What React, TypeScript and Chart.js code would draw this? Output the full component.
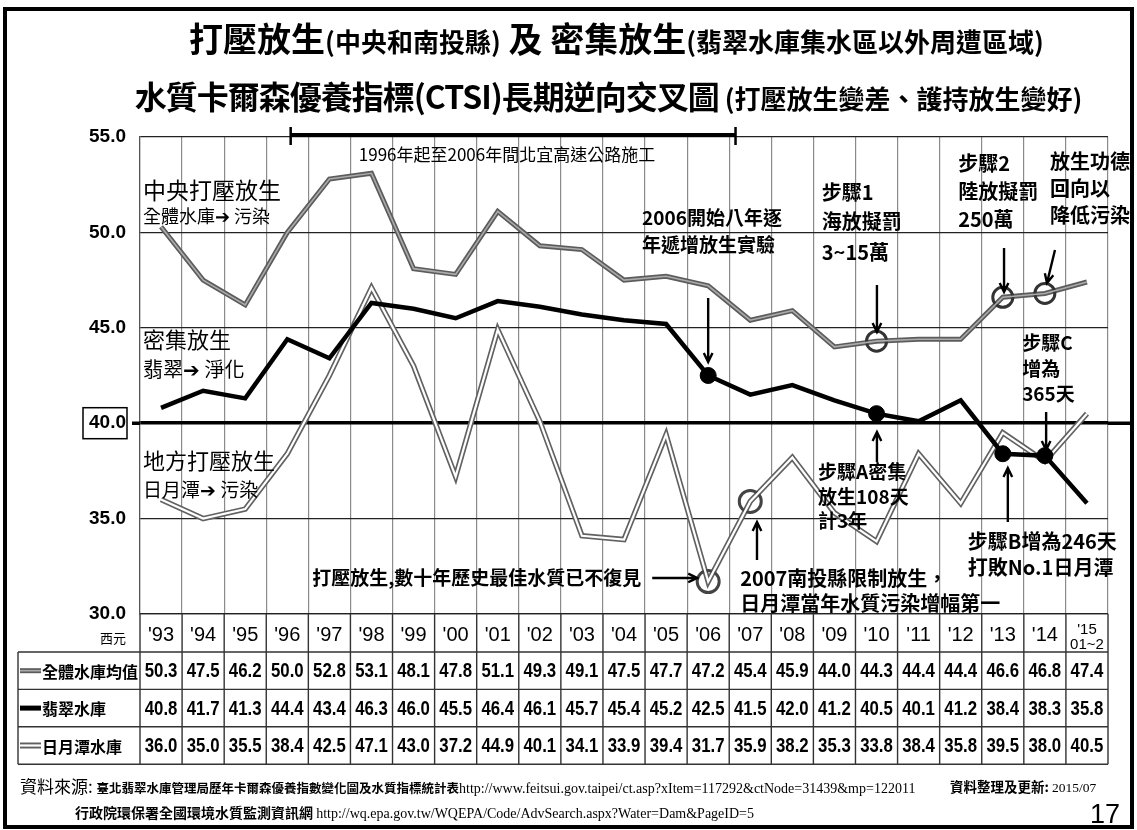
import React, { useEffect, useRef } from 'react';
import { Chart, registerables } from 'chart.js';

Chart.register(...registerables);

// ---------- data ----------
const categories = ["'93", "'94", "'95", "'96", "'97", "'98", "'99", "'00", "'01", "'02", "'03", "'04", "'05", "'06", "'07", "'08", "'09", "'10", "'11", "'12", "'13", "'14", "'15 01~2"];
const allReservoirMean = [50.3, 47.5, 46.2, 50.0, 52.8, 53.1, 48.1, 47.8, 51.1, 49.3, 49.1, 47.5, 47.7, 47.2, 45.4, 45.9, 44.0, 44.3, 44.4, 44.4, 46.6, 46.8, 47.4];
const feitsui = [40.8, 41.7, 41.3, 44.4, 43.4, 46.3, 46.0, 45.5, 46.4, 46.1, 45.7, 45.4, 45.2, 42.5, 41.5, 42.0, 41.2, 40.5, 40.1, 41.2, 38.4, 38.3, 35.8];
const sunMoonLake = [36.0, 35.0, 35.5, 38.4, 42.5, 47.1, 43.0, 37.2, 44.9, 40.1, 34.1, 33.9, 39.4, 31.7, 35.9, 38.2, 35.3, 33.8, 38.4, 35.8, 39.5, 38.0, 40.5];
const seriesNames = ['全體水庫均值', '翡翠水庫', '日月潭水庫'];
const yMin = 30;
const yMax = 55;
const yStep = 5;
const meanMarked = [17, 20, 21];
const feitsuiMarked = [13, 17, 20, 21];
const sunMoonMarked = [13, 14];

const NARROW = "'Liberation Sans Narrow', 'Liberation Sans', sans-serif";
const CJK = "'Noto Sans CJK TC', 'Noto Sans CJK SC', sans-serif";

type Note = { text: string; i: number; v: number; size: number; bold?: boolean; center?: boolean };
const notes: Note[] = [
  { text: '中央打壓放生', i: -0.43, v: 52.22, size: 23 },
  { text: '全體水庫➔ 污染', i: -0.43, v: 50.86, size: 18 },
  { text: '密集放生', i: -0.43, v: 44.36, size: 22 },
  { text: '翡翠➔ 淨化', i: -0.43, v: 42.84, size: 20 },
  { text: '地方打壓放生', i: -0.43, v: 38.02, size: 22 },
  { text: '日月潭➔ 污染', i: -0.43, v: 36.5, size: 19 },
  { text: '2006開始八年逐', i: 11.43, v: 50.75, size: 19, bold: true },
  { text: '年遞增放生實驗', i: 11.43, v: 49.34, size: 19, bold: true },
  { text: '步驟1', i: 15.7, v: 52.07, size: 20, bold: true },
  { text: '海放擬罰', i: 15.7, v: 50.55, size: 20, bold: true },
  { text: '3~15萬', i: 15.7, v: 48.97, size: 20, bold: true },
  { text: '步驟2', i: 18.94, v: 53.64, size: 20, bold: true },
  { text: '陸放擬罰', i: 18.94, v: 52.17, size: 20, bold: true },
  { text: '250萬', i: 18.94, v: 50.7, size: 20, bold: true },
  { text: '放生功德', i: 21.12, v: 53.74, size: 20, bold: true },
  { text: '回向以', i: 21.12, v: 52.33, size: 20, bold: true },
  { text: '降低污染', i: 21.12, v: 50.91, size: 20, bold: true },
  { text: '步驟C', i: 20.46, v: 44.2, size: 19, bold: true },
  { text: '增為', i: 20.46, v: 42.84, size: 19, bold: true },
  { text: '365天', i: 20.46, v: 41.53, size: 19, bold: true },
  { text: '步驟A密集', i: 15.61, v: 37.44, size: 19, bold: true },
  { text: '放生108天', i: 15.61, v: 36.13, size: 19, bold: true },
  { text: '計3年', i: 15.61, v: 34.87, size: 19, bold: true },
  { text: '步驟B增為246天', i: 19.17, v: 33.83, size: 20, bold: true },
  { text: '打敗No.1日月潭', i: 19.17, v: 32.46, size: 20, bold: true },
  { text: '打壓放生,數十年歷史最佳水質已不復見', i: 3.59, v: 31.89, size: 19, bold: true },
  { text: '2007南投縣限制放生，', i: 13.76, v: 31.89, size: 20, bold: true },
  { text: '日月潭當年水質污染增幅第一', i: 13.76, v: 30.58, size: 20, bold: true },
  { text: '1996年起至2006年間北宜高速公路施工', i: 8.22, v: 54.06, size: 17, center: true },
];

// arrows: [i1, v1, i2, v2] with the head at the second end
const arrows: number[][] = [
  [13.0, 46.56, 13.0, 43.21],
  [17.01, 47.24, 17.01, 44.78],
  [20.03, 49.18, 20.03, 46.88],
  [21.24, 49.08, 21.05, 47.35],
  [21.03, 40.59, 21.03, 38.6],
  [17.01, 37.97, 17.01, 39.54],
  [20.12, 34.82, 20.12, 37.65],
  [14.16, 32.83, 14.16, 34.82],
  [11.67, 31.89, 12.74, 31.89],
];

const bracketFrom = 3.08;
const bracketTo = 13.65;

const decorPlugin = {
  id: 'decor',
  afterDatasetDraw(chart: any, args: any) {
    const ds: any = chart.data.datasets[args.index];
    if (!ds.innerColor) return;
    const pts = args.meta.data;
    const ctx = chart.ctx;
    ctx.save();
    ctx.beginPath();
    pts.forEach((p: any, k: number) => (k ? ctx.lineTo(p.x, p.y) : ctx.moveTo(p.x, p.y)));
    ctx.strokeStyle = ds.innerColor;
    ctx.lineWidth = ds.innerWidth;
    ctx.lineJoin = 'miter';
    ctx.stroke();
    ctx.restore();
  },
  afterDraw(chart: any) {
    const { ctx, chartArea: ca, scales } = chart;
    const xs = scales.x;
    const ys = scales.y;
    const step = xs.getPixelForValue(1) - xs.getPixelForValue(0);
    const X = (f: number) => xs.getPixelForValue(0) + f * step;
    const Y = (v: number) => ys.getPixelForValue(v);
    ctx.save();

    // 40 line extension and box
    const y40 = Y(40);
    ctx.strokeStyle = '#000';
    ctx.lineWidth = 3.5;
    ctx.beginPath();
    ctx.moveTo(132, y40);
    ctx.lineTo(ca.left, y40);
    ctx.moveTo(ca.right, y40);
    ctx.lineTo(1131, y40);
    ctx.stroke();
    ctx.lineWidth = 1.5;
    ctx.strokeRect(83, y40 - 15.5, 44, 31);

    // bracket
    const by = ca.top - 2;
    ctx.lineWidth = 4;
    ctx.beginPath();
    ctx.moveTo(X(bracketFrom), by);
    ctx.lineTo(X(bracketTo), by);
    ctx.stroke();
    ctx.lineWidth = 2.5;
    ctx.beginPath();
    ctx.moveTo(X(bracketFrom), by - 8);
    ctx.lineTo(X(bracketFrom), by + 10);
    ctx.moveTo(X(bracketTo), by - 8);
    ctx.lineTo(X(bracketTo), by + 10);
    ctx.stroke();

    // notes
    ctx.fillStyle = '#000';
    ctx.textBaseline = 'middle';
    notes.forEach((n) => {
      ctx.font = `${n.bold ? 'bold ' : ''}${n.size}px ${CJK}`;
      ctx.textAlign = n.center ? 'center' : 'left';
      ctx.fillText(n.text, X(n.i), Y(n.v));
    });

    // arrows
    ctx.strokeStyle = '#000';
    ctx.lineWidth = 2.4;
    arrows.forEach(([i1, v1, i2, v2]) => {
      const x1 = X(i1), y1 = Y(v1), x2 = X(i2), y2 = Y(v2);
      const ang = Math.atan2(y2 - y1, x2 - x1);
      const hl = 10, ha = 0.45;
      ctx.beginPath();
      ctx.moveTo(x1, y1);
      ctx.lineTo(x2, y2);
      ctx.moveTo(x2 - hl * Math.cos(ang - ha), y2 - hl * Math.sin(ang - ha));
      ctx.lineTo(x2, y2);
      ctx.lineTo(x2 - hl * Math.cos(ang + ha), y2 - hl * Math.sin(ang + ha));
      ctx.stroke();
    });

    // 西元
    ctx.font = `13px ${CJK}`;
    ctx.textAlign = 'right';
    ctx.fillText('西元', ca.left - 14, ca.bottom + 24);

    // table
    const headerBottom = ca.bottom + 38;
    const rowH = 37.4;
    const tableBottom = headerBottom + rowH * 3;
    const tableLeft = 18;
    ctx.strokeStyle = '#333';
    ctx.lineWidth = 1.4;
    ctx.beginPath();
    for (let k = 0; k <= categories.length; k++) {
      const xx = X(k - 0.5);
      ctx.moveTo(xx, ca.bottom);
      ctx.lineTo(xx, tableBottom);
    }
    ctx.moveTo(tableLeft, headerBottom);
    ctx.lineTo(tableLeft, tableBottom);
    for (let r = 0; r <= 3; r++) {
      const yy = headerBottom + r * rowH;
      ctx.moveTo(tableLeft, yy);
      ctx.lineTo(ca.right, yy);
    }
    ctx.stroke();

    const rows = [allReservoirMean, feitsui, sunMoonLake];
    rows.forEach((vals, r) => {
      const cy = headerBottom + (r + 0.5) * rowH;
      ctx.font = `bold 21px ${NARROW}`;
      ctx.textAlign = 'center';
      ctx.fillStyle = '#000';
      vals.forEach((v, k) => {
        ctx.save();
        ctx.translate(X(k), cy + 1);
        ctx.scale(0.8, 1);
        ctx.fillText(v.toFixed(1), 0, 0);
        ctx.restore();
      });
      // legend sample
      ctx.lineCap = 'butt';
      if (r === 0) {
        ctx.strokeStyle = '#5a5a5a'; ctx.lineWidth = 5;
        ctx.beginPath(); ctx.moveTo(20, cy); ctx.lineTo(41, cy); ctx.stroke();
        ctx.strokeStyle = '#aaa'; ctx.lineWidth = 1.6;
        ctx.beginPath(); ctx.moveTo(20, cy); ctx.lineTo(41, cy); ctx.stroke();
      } else if (r === 1) {
        ctx.strokeStyle = '#000'; ctx.lineWidth = 5;
        ctx.beginPath(); ctx.moveTo(20, cy); ctx.lineTo(41, cy); ctx.stroke();
      } else {
        ctx.strokeStyle = '#5f5f5f'; ctx.lineWidth = 6;
        ctx.beginPath(); ctx.moveTo(20, cy); ctx.lineTo(41, cy); ctx.stroke();
        ctx.strokeStyle = '#fff'; ctx.lineWidth = 2.2;
        ctx.beginPath(); ctx.moveTo(20, cy); ctx.lineTo(41, cy); ctx.stroke();
      }
      ctx.fillStyle = '#000';
      ctx.font = `bold 16px ${CJK}`;
      ctx.textAlign = 'left';
      ctx.fillText(seriesNames[r], 42, cy + 1);
    });

    ctx.restore();
  },
};

const radii = (n: number, marked: number[], r: number) => Array.from({ length: n }, (_, i) => (marked.includes(i) ? r : 0));

export default function App() {
  const ref = useRef<HTMLCanvasElement>(null);

  useEffect(() => {
    const canvas = ref.current;
    if (!canvas) return;
    const n = categories.length;
    const chart = new Chart(canvas, {
      type: 'line',
      data: {
        labels: categories,
        datasets: [
          {
            label: seriesNames[1],
            data: feitsui,
            borderColor: '#000',
            borderWidth: 4.5,
            pointRadius: radii(n, feitsuiMarked, 8),
            pointHoverRadius: radii(n, feitsuiMarked, 8),
            pointBackgroundColor: '#000',
            pointBorderColor: '#000',
            pointBorderWidth: 1,
            tension: 0,
          },
          {
            label: seriesNames[0],
            data: allReservoirMean,
            borderColor: '#5c5c5c',
            borderWidth: 5,
            innerColor: '#ababab',
            innerWidth: 1.6,
            pointRadius: radii(n, meanMarked, 10),
            pointHoverRadius: radii(n, meanMarked, 10),
            pointBackgroundColor: 'rgba(0,0,0,0)',
            pointBorderColor: '#333',
            pointBorderWidth: 3,
            tension: 0,
          } as any,
          {
            label: seriesNames[2],
            data: sunMoonLake,
            borderColor: '#616161',
            borderWidth: 5.5,
            innerColor: '#ffffff',
            innerWidth: 2.2,
            pointRadius: radii(n, sunMoonMarked, 11),
            pointHoverRadius: radii(n, sunMoonMarked, 11),
            pointBackgroundColor: 'rgba(0,0,0,0)',
            pointBorderColor: '#444',
            pointBorderWidth: 3,
            tension: 0,
          } as any,
        ],
      },
      options: {
        responsive: false,
        animation: false,
        events: [],
        layout: { padding: { top: 137, left: 80, right: 29, bottom: 170 } },
        plugins: { legend: { display: false }, tooltip: { enabled: false }, title: { display: false } },
        scales: {
          x: {
            type: 'category',
            offset: true,
            afterFit: (s: any) => { s.height = 46; },
            grid: { offset: true, color: '#8a8a8a', lineWidth: 1.2, drawTicks: false },
            border: { color: '#222', width: 1.3 },
            ticks: {
              autoSkip: false,
              maxRotation: 0,
              padding: 9,
              color: '#000',
              font: (c: any) => (c.index === categories.length - 1 ? { family: NARROW, size: 15, lineHeight: 0.95 } : { family: NARROW, size: 20 }),
              callback: (_v: any, i: number) => (categories[i].includes(' ') ? categories[i].split(' ') : categories[i]),
            },
          },
          y: {
            min: yMin,
            max: yMax,
            afterFit: (s: any) => { s.width = 60; },
            grid: {
              color: (c: any) => (c.tick && c.tick.value === 40 ? '#000' : '#222'),
              lineWidth: (c: any) => (c.tick && c.tick.value === 40 ? 3.5 : 1.3),
              drawTicks: false,
            },
            border: { color: '#555', width: 1.2 },
            ticks: {
              stepSize: yStep,
              padding: 14,
              color: '#000',
              font: { family: NARROW, size: 19, weight: 'bold' },
              callback: (v: any) => Number(v).toFixed(1),
            },
          },
        },
      },
      plugins: [decorPlugin],
    } as any);
    return () => chart.destroy();
  }, []);

  const big = { fontSize: 34, fontWeight: 700 } as React.CSSProperties;
  const small = { fontSize: 26, fontWeight: 700 } as React.CSSProperties;

  return (
    <div style={{ position: 'fixed', left: 0, top: 0, width: 1137, height: 830, background: '#fff', overflow: 'hidden', fontFamily: CJK, color: '#000' }}>
      <canvas ref={ref} width={1137} height={830} style={{ position: 'absolute', left: 0, top: 0 }} />
      <div style={{ position: 'absolute', left: 3, top: 7, width: 1131, height: 822, border: '4px solid #000', boxSizing: 'border-box', pointerEvents: 'none' }} />
      <div style={{ position: 'absolute', left: 48, top: 21, width: 1137, textAlign: 'center', lineHeight: 1, whiteSpace: 'nowrap' }}>
        <span style={big}>打壓放生</span>
        <span style={small}>(中央和南投縣)</span>
        <span style={big}> 及 密集放生</span>
        <span style={small}>(翡翠水庫集水區以外周遭區域)</span>
      </div>
      <div style={{ position: 'absolute', left: 40, top: 79, width: 1137, textAlign: 'center', lineHeight: 1, whiteSpace: 'nowrap' }}>
        <span style={{ fontSize: 32, fontWeight: 700, letterSpacing: -1 }}>水質卡爾森優養指標(CTSI)長期逆向交叉圖</span>
        <span style={{ fontSize: 26, fontWeight: 700 }}> (打壓放生變差、護持放生變好)</span>
      </div>
      <div style={{ position: 'absolute', left: 20, top: 777, whiteSpace: 'nowrap', lineHeight: 1 }}>
        <span style={{ fontSize: 17, fontFamily: "'Noto Sans CJK TC', serif" }}>資料來源: </span>
        <span style={{ fontSize: 12.5, fontWeight: 700 }}>臺北翡翠水庫管理局歷年卡爾森優養指數變化圖及水質指標統計表</span>
        <span style={{ fontSize: 14, fontFamily: "'Liberation Serif', serif" }}>http://www.feitsui.gov.taipei/ct.asp?xItem=117292&amp;ctNode=31439&amp;mp=122011</span>
      </div>
      <div style={{ position: 'absolute', left: 950, top: 780, whiteSpace: 'nowrap', lineHeight: 1, fontSize: 13.5 }}>
        <span style={{ fontWeight: 700 }}>資料整理及更新: </span>
        <span style={{ fontFamily: "'Liberation Serif', serif" }}>2015/07</span>
      </div>
      <div style={{ position: 'absolute', left: 75, top: 803, whiteSpace: 'nowrap', lineHeight: 1 }}>
        <span style={{ fontSize: 14, fontWeight: 700 }}>行政院環保署全國環境水質監測資訊網 </span>
        <span style={{ fontSize: 14, fontFamily: "'Liberation Serif', serif" }}>http://wq.epa.gov.tw/WQEPA/Code/AdvSearch.aspx?Water=Dam&amp;PageID=5</span>
      </div>
      <div style={{ position: 'absolute', left: 1090, top: 801, fontSize: 27, lineHeight: 1, fontFamily: "'Liberation Sans', sans-serif" }}>17</div>
    </div>
  );
}
